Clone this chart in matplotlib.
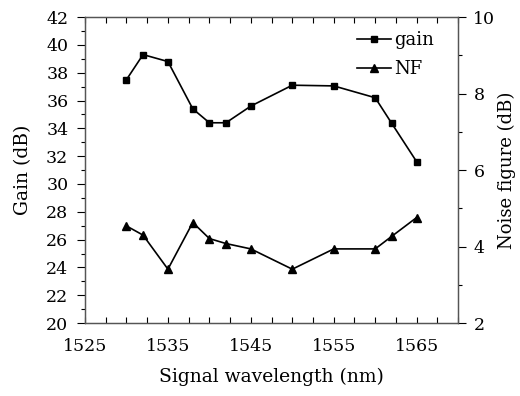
import numpy as np
import matplotlib
matplotlib.use("Agg")
import matplotlib.pyplot as plt
from matplotlib.ticker import MultipleLocator, FixedLocator

plt.rcParams['font.family'] = ['DejaVu Serif']
plt.rcParams['font.size'] = 12

wl = [1530, 1532, 1535, 1538, 1540, 1542, 1545, 1550, 1555, 1560, 1562, 1565]
gain = [37.5, 39.3, 38.8, 35.4, 34.4, 34.4, 35.6, 37.1, 37.05, 36.2, 34.35, 31.6]
nf = [4.54, 4.30, 3.41, 4.63, 4.21, 4.08, 3.94, 3.41, 3.94, 3.94, 4.27, 4.76]
xticks = [1525, 1535, 1545, 1555, 1565]

fig = plt.figure(figsize=(5.2, 3.96), dpi=100)
ax = fig.add_axes([0.1635, 0.184, 0.7175, 0.773])
ax2 = ax.twinx()

l1, = ax.plot(wl, gain, "k-s", lw=1.2, ms=5, label="gain")
l2, = ax2.plot(wl, nf, "k-^", lw=1.2, ms=6, label="NF")

ax.set_xlim(1525, 1570)
ax.set_ylim(20, 42)
ax2.set_ylim(2, 10)

ax.xaxis.set_major_locator(FixedLocator(xticks))
ax.xaxis.set_minor_locator(MultipleLocator(2.5))
ax.yaxis.set_major_locator(MultipleLocator(2))
ax.yaxis.set_minor_locator(MultipleLocator(1))
ax2.yaxis.set_major_locator(MultipleLocator(2))
ax2.yaxis.set_minor_locator(MultipleLocator(1))

ax.tick_params(axis="x", which="both", direction="in", top=True, length=4, width=0.8,
               labelsize=12.5, pad=11)
ax.tick_params(axis="y", which="major", direction="out", length=6, width=0.8,
               labelsize=12.5, pad=6)
ax.tick_params(axis="y", which="minor", direction="out", length=3, width=0.8)
ax2.tick_params(axis="y", which="major", direction="out", length=6, width=0.8,
                labelsize=12.5, pad=5)
ax2.tick_params(axis="y", which="minor", direction="out", length=3, width=0.8)

for a in (ax, ax2):
    for s in a.spines.values():
        s.set_color("#555555")
        s.set_linewidth(0.9)

ax.set_xlabel("Signal wavelength (nm)", fontsize=13.5, labelpad=9)
ax.set_ylabel("Gain (dB)", fontsize=13.5, labelpad=10)
ax2.set_ylabel("Noise figure (dB)", fontsize=13, labelpad=2)

ax.legend([l1, l2], ["gain", "NF"], loc="upper right", bbox_to_anchor=(0.975, 1.0),
          frameon=False, handlelength=1.9, handletextpad=0.2, borderaxespad=0.4,
          labelspacing=0.6, fontsize=13)

fig.savefig("out.png", dpi=100)
